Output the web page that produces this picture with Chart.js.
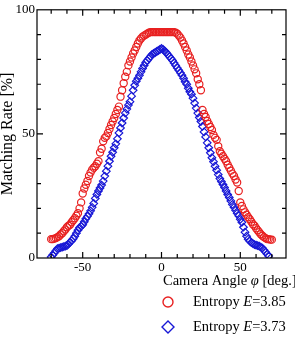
<!DOCTYPE html>
<html>
<head>
<meta charset="utf-8">
<script src="https://cdn.jsdelivr.net/npm/chart.js@4"></script>
<style>
  body { margin: 0; background: #fff; }
  canvas { display: block; }
</style>
</head>
<body>
<canvas id="chart" width="295" height="349"></canvas>
<script>
// camera angle (deg.)
const angles = [
  -70,-69,-68,-67,-66,-65,-64,-63,-62,-61,
  -60,-59,-58,-57,-56,-55,-54,-53,-52,-51,
  -50,-49,-48,-47,-46,-45,-44,-43,-42,-41,
  -40,-39,-38,-37,-36,-35,-34,-33,-32,-31,
  -30,-29,-28,-27,-26,-25,-24,-23,-22,-21,
  -20,-19,-18,-17,-16,-15,-14,-13,-12,-11,
  -10,-9,-8,-7,-6,-5,-4,-3,-2,-1,
  0,
  1,2,3,4,5,6,7,8,9,10,
  11,12,13,14,15,16,17,18,19,20,
  21,22,23,24,25,26,27,28,29,30,
  31,32,33,34,35,36,37,38,39,40,
  41,42,43,44,45,46,47,48,49,50,
  51,52,53,54,55,56,57,58,59,60,
  61,62,63,64,65,66,67,68,69,70
];

// matching rate (%), entropy E=3.85
const rateE385 = [
  7.6,7.6,7.8,8,8.4,8.8,9.5,10,10.8,11.5,
  12.4,13,13.4,14.4,15.2,16,17,18,20,22.4,
  26,28,29.5,31,33,34.4,35.6,36.4,37,38,
  39,42.5,44,47,48.4,49,50.4,52,53.6,55,
  56.4,58,59.6,61,65,67.6,70.4,73,75,77.6,
  79.2,80.8,82.4,83.6,85,86.4,87.6,88.4,89.2,89.6,
  90,90.4,90.8,91,91,91,91,91,91,91,
  91,
  91,91,91,91,91,91,91,91,90.8,90.4,
  89.6,88.8,87.6,86.4,85,83.6,82,80.8,79.2,77.6,
  76,74.4,72,70,67.6,59.6,58,56.8,55.2,54,
  52.8,51.6,49.6,48.4,47.6,45,43,42,41,40,
  39,37.6,36.4,35.2,34,33,31.6,30.4,27,22.4,
  21,19.6,18.4,17.4,16.4,15.6,14.6,13.6,13,12,
  11.2,10.4,9.6,9,8.4,8,7.6,7.6,7.4,7.4
];

// matching rate (%), entropy E=3.73
const rateE373 = [
  0.4,1.2,2,3,3.8,4,4.2,4.4,4.6,4.8,
  5,5.6,6.4,7,7.8,8.8,10,11.2,12.2,12.8,
  13.4,14.6,15.8,16.8,17.8,19,20.4,22,24,25.6,
  27,28.2,29.4,31,33,35,37,39,41,42.6,
  44.4,46,48,50.4,52.4,54.4,56.4,58.4,60,61.6,
  63,65.2,67.6,69.6,71.2,72.4,73.6,75,76.4,77.6,
  78.8,79.6,80.4,81.2,82,82.4,82.8,83.2,83.6,84,
  84.4,
  84,83.4,82.8,82,81.2,80.4,79.6,78.6,77.6,76.6,
  75.6,74.6,73.6,72.4,71,70,68.4,67,66,64.4,
  62.4,60.4,58.4,56.6,55,53,50.8,48.8,46.4,44.4,
  42.4,40.4,38.8,37,35.4,33.6,32,30.8,29.6,28.4,
  27,25.6,24.4,23,21.6,20.4,19.2,18,17,15.6,
  14.4,12.4,10.4,8.8,7.6,6.8,6.2,5.8,5.4,5.2,
  5,4.8,4.4,4,3.2,2.4,1.6,0.8,null,null
];

const xTicks = [-70,-60,-50,-40,-30,-20,-10,0,10,20,30,40,50,60,70];
const yTicks = [10,20,30,40,50,60,70,80,90];
const xLabels = [-50, 0, 50];
const yLabels = [0, 50, 100];

const RED = 'rgb(232,32,32)';
const BLUE = 'rgb(24,24,214)';
const FONT = "'Liberation Serif', 'Times New Roman', serif";

function pairs(ys) {
  return angles.map((a, i) => ({ x: a, y: ys[i] }));
}

function mixedText(ctx, parts, x, y) {
  parts.forEach(p => {
    ctx.font = (p.italic ? 'italic ' : '') + '14.5px ' + FONT;
    ctx.fillText(p.t, x, y);
    x += ctx.measureText(p.t).width;
  });
}

const framePlugin = {
  id: 'frame',
  afterDraw(chart) {
    const { ctx, chartArea: a, scales: { x, y } } = chart;
    ctx.save();
    ctx.strokeStyle = '#000';
    ctx.lineWidth = 1.2;
    ctx.strokeRect(a.left, a.top, a.right - a.left, a.bottom - a.top);
    ctx.beginPath();
    xTicks.forEach(v => {
      const px = x.getPixelForValue(v);
      const len = v % 50 === 0 ? 6 : 4;
      ctx.moveTo(px, a.bottom); ctx.lineTo(px, a.bottom - len);
      ctx.moveTo(px, a.top); ctx.lineTo(px, a.top + len);
    });
    yTicks.forEach(v => {
      const py = y.getPixelForValue(v);
      const len = v % 50 === 0 ? 6 : 4;
      ctx.moveTo(a.left, py); ctx.lineTo(a.left + len, py);
      ctx.moveTo(a.right, py); ctx.lineTo(a.right - len, py);
    });
    ctx.stroke();

    // x axis title
    ctx.fillStyle = '#000';
    ctx.textBaseline = 'middle';
    ctx.textAlign = 'left';
    mixedText(ctx, [{ t: 'Camera Angle ' }, { t: 'φ', italic: true }, { t: ' [deg.]' }], 163, 281);

    // legend
    ctx.lineWidth = 1.4;
    ctx.strokeStyle = RED;
    ctx.beginPath();
    ctx.arc(168, 302, 5, 0, Math.PI * 2);
    ctx.stroke();
    ctx.strokeStyle = BLUE;
    ctx.beginPath();
    ctx.moveTo(168, 321); ctx.lineTo(174, 327); ctx.lineTo(168, 333); ctx.lineTo(162, 327);
    ctx.closePath();
    ctx.stroke();
    mixedText(ctx, [{ t: 'Entropy ' }, { t: 'E', italic: true }, { t: '=3.85' }], 193, 302);
    mixedText(ctx, [{ t: 'Entropy ' }, { t: 'E', italic: true }, { t: '=3.73' }], 193, 327);
    ctx.restore();
  }
};

new Chart(document.getElementById('chart'), {
  type: 'scatter',
  data: {
    datasets: [
      {
        label: 'Entropy E=3.85',
        data: pairs(rateE385),
        pointStyle: 'circle',
        pointRadius: 3.6,
        borderColor: RED,
        backgroundColor: 'rgba(0,0,0,0)',
        borderWidth: 1.2
      },
      {
        label: 'Entropy E=3.73',
        data: pairs(rateE373),
        pointStyle: 'rectRot',
        pointRadius: 3.8,
        borderColor: BLUE,
        backgroundColor: 'rgba(0,0,0,0)',
        borderWidth: 1.2
      }
    ]
  },
  options: {
    responsive: false,
    animation: false,
    layout: { padding: { top: 8, right: 9, bottom: 71, left: 0 } },
    plugins: {
      legend: { display: false },
      tooltip: { enabled: false }
    },
    scales: {
      x: {
        type: 'linear',
        min: -79,
        max: 79,
        grid: { display: false, drawTicks: false },
        border: { display: false },
        afterFit: s => { s.height = 20; },
        ticks: {
          stepSize: 10,
          autoSkip: false,
          maxRotation: 0,
          padding: 2,
          color: '#000',
          font: { family: FONT, size: 13 },
          callback: v => xLabels.includes(v) ? String(v) : ''
        }
      },
      y: {
        min: 0,
        max: 100,
        grid: { display: false, drawTicks: false },
        border: { display: false },
        afterFit: s => { s.width = 37; },
        title: {
          display: true,
          text: 'Matching Rate [%]',
          color: '#000',
          font: { family: FONT, size: 16, lineHeight: 1 },
          padding: { top: 0, bottom: 0 }
        },
        ticks: {
          stepSize: 10,
          autoSkip: false,
          padding: 2,
          color: '#000',
          font: { family: FONT, size: 13 },
          callback: v => yLabels.includes(v) ? String(v) : ''
        }
      }
    }
  },
  plugins: [framePlugin]
});
</script>
</body>
</html>
